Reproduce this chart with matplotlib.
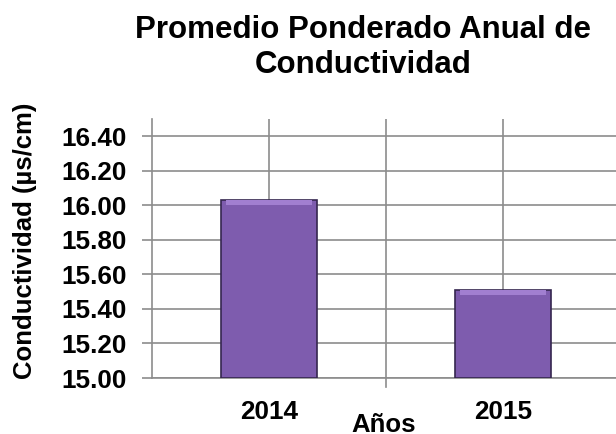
import numpy as np
import matplotlib.pyplot as plt
from matplotlib.ticker import FormatStrFormatter

years = ['2014', '2015']
conductividad = [16.03, 15.51]
y_ticks = [15.0, 15.2, 15.4, 15.6, 15.8, 16.0, 16.2, 16.4]

plt.rcParams['font.family'] = ['Liberation Sans', 'DejaVu Sans']

fig = plt.figure(figsize=(6.16, 4.34), dpi=100)
ax = fig.add_axes([152 / 616, 56 / 434, 464 / 616, 259 / 434])

x = np.arange(len(years))
ax.bar(x, [v - 15.0 for v in conductividad], bottom=15.0, width=0.41,
       color='#7E5CAE', edgecolor='#35264F', linewidth=1.2, zorder=3)

# lighter bevel on top of each bar
for xi, v in zip(x, conductividad):
    ax.bar(xi, 0.03, bottom=v - 0.03, width=0.37, color='#A17FD0',
           linewidth=0, zorder=4)

ax.set_ylim(15.0, 16.5)
ax.set_xlim(-0.5, 1.483)
ax.set_yticks(y_ticks)
ax.yaxis.set_major_formatter(FormatStrFormatter('%.2f'))
ax.set_xticks(x)
ax.set_xticklabels(years)

ax.grid(axis='y', color='#8C8C8C', linewidth=1.2, zorder=0)
for gx in [0, 0.5, 1.0]:
    ax.axvline(gx, color='#8C8C8C', linewidth=1.2, zorder=0)
ax.plot([0.5, 0.5], [15.0, 14.95], color='#8C8C8C', linewidth=1.2,
        clip_on=False)

for s in ['top', 'right']:
    ax.spines[s].set_visible(False)
for s in ['left', 'bottom']:
    ax.spines[s].set_color('#8C8C8C')
    ax.spines[s].set_linewidth(1.2)

ax.tick_params(axis='y', length=7, color='#8C8C8C', width=1.2, pad=11,
               labelsize=18.8)
ax.tick_params(axis='x', length=0, pad=16, labelsize=18.8)
for lbl in ax.get_xticklabels() + ax.get_yticklabels():
    lbl.set_fontweight('bold')

ax.set_ylabel('Conductividad (µs/cm)', fontsize=18.5, fontweight='bold')
ax.yaxis.set_label_coords(-0.248, 0.53)
ax.set_xlabel('Años', fontsize=18.5, fontweight='bold')
ax.xaxis.set_label_coords(0.5, -0.135)

fig.text(0.589, 0.89, 'Promedio Ponderado Anual de\nConductividad',
         ha='center', va='center', fontsize=22.5, fontweight='bold',
         linespacing=1.2)

fig.savefig('out.png', dpi=100)
